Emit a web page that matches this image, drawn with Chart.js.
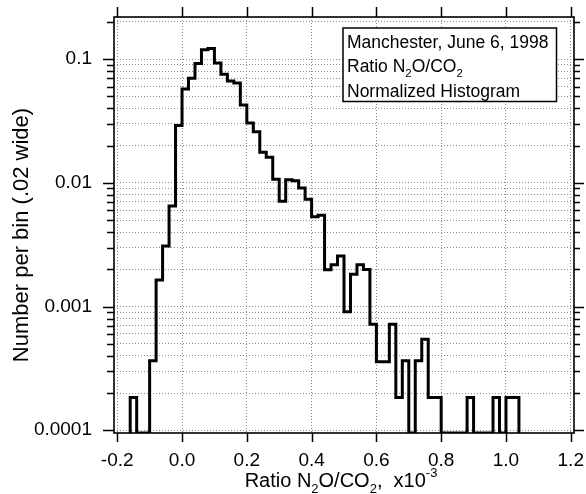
<!DOCTYPE html>
<html><head><meta charset="utf-8">
<script src="https://cdn.jsdelivr.net/npm/chart.js@4/dist/chart.umd.min.js"></script>
<style>html,body{margin:0;padding:0;background:#fff;}#wrap{width:586px;height:494px;position:relative}</style>
</head><body><div id="wrap"><canvas id="c" width="586" height="494"></canvas></div>
<script>
// ---- data ----
const binLeftEdges = [-0.16,-0.14,-0.12,-0.10,-0.08,-0.06,-0.04,-0.02,0.00,0.02,
  0.04,0.06,0.08,0.10,0.12,0.14,0.16,0.18,0.20,0.22,
  0.24,0.26,0.28,0.30,0.32,0.34,0.36,0.38,0.40,0.42,
  0.44,0.46,0.48,0.50,0.52,0.54,0.56,0.58,0.60,0.62,
  0.64,0.66,0.68,0.70,0.72,0.74,0.76,0.78,0.80,0.82,
  0.84,0.86,0.88,0.90,0.92,0.94,0.96,0.98,1.00,1.02];
const binWidth = 0.02;
const binValues = [0.000184,0,0,0.000364,0.00164,0.00309,0.0065,0.0291,0.0574,0.0700,
  0.0920,0.119,0.122,0.093,0.0754,0.0665,0.0640,0.0426,0.0304,0.0259,
  0.0177,0.0161,0.0107,0.0071,0.0106,0.0104,0.0091,0.00738,0.00533,0.00547,
  0.00198,0.00218,0.00256,0.000908,0.00182,0.00218,0.00199,0.000718,0.000357,0.000357,
  0.000720,0.000184,0.000364,0,0.000364,0.000543,0.000184,0.000184,0,0,
  0,0,0.000184,0,0,0,0.000184,0,0.000184,0.000184];
const xTickValues = [-0.2,0.0,0.2,0.4,0.6,0.8,1.0,1.2];
const yDecades = [0.0001,0.001,0.01,0.1];
const yTickLabels = ['0.0001','0.001','0.01','0.1'];
const xRange = [-0.21, 1.21];
const yRange = [0.000095, 0.219];
const legendLines = [
  [['Manchester, June 6, 1998','n']],
  [['Ratio N','n'],['2','sub'],['O/CO','n'],['2','sub']],
  [['Normalized Histogram','n']]
];
const xTitle = [['Ratio N','n'],['2','sub'],['O/CO','n'],['2','sub'],[',  x10','n'],['-3','sup']];
const yTitle = 'Number per bin (.02 wide)';

// ---- build step points ----
const floorVal = yRange[0];
const pts = [{x: binLeftEdges[0], y: floorVal}];
binLeftEdges.forEach((e, i) => pts.push({x: e, y: binValues[i] > 0 ? binValues[i] : floorVal}));
pts.push({x: binLeftEdges[binLeftEdges.length-1] + binWidth, y: floorVal});

const FONT = '"Liberation Sans", Arial, Helvetica, sans-serif';

function richWidth(ctx, pieces, size){
  let w = 0;
  pieces.forEach(([t,m]) => { const s = m==='n'?size:size*0.65; ctx.font = s+'px '+FONT; w += ctx.measureText(t).width; });
  return w;
}
function drawRich(ctx, pieces, x, y, size){
  ctx.textAlign='left'; ctx.textBaseline='alphabetic';
  pieces.forEach(([t,m]) => {
    const s = m==='n'?size:size*0.65;
    ctx.font = s+'px '+FONT;
    const dy = m==='sub'? size*0.3 : (m==='sup' ? -size*0.5 : 0);
    ctx.fillText(t, x, y+dy);
    x += ctx.measureText(t).width;
  });
}

const decor = {
  id:'decor',
  afterDraw(chart){
    const {ctx, chartArea:a, scales:{x, y}} = chart;
    ctx.save();
    ctx.strokeStyle='#000'; ctx.fillStyle='#000';
    ctx.lineWidth=1.6;
    ctx.strokeRect(a.left, a.top, a.right-a.left, a.bottom-a.top);
    ctx.lineWidth=1.5;
    ctx.beginPath();
    xTickValues.forEach(v => {
      const px = Math.round(x.getPixelForValue(v))+0.5;
      ctx.moveTo(px, a.bottom); ctx.lineTo(px, a.bottom+9);
      ctx.moveTo(px, a.top); ctx.lineTo(px, a.top-10);
    });
    y.ticks.forEach(t => {
      const py = Math.round(y.getPixelForValue(t.value))+0.5;
      const L = t.major ? 11 : 7;
      ctx.moveTo(a.left, py); ctx.lineTo(a.left-L, py);
      ctx.moveTo(a.right, py); ctx.lineTo(a.right+L-1, py);
    });
    ctx.stroke();
    // legend box
    const bx = a.right - 231, by = a.top + 11, bw = 213.5, bh = 73.5;
    ctx.fillStyle='#fff'; ctx.fillRect(bx, by, bw, bh);
    ctx.fillStyle='#000'; ctx.lineWidth=1.5; ctx.strokeRect(bx, by, bw, bh);
    legendLines.forEach((ln, i) => drawRich(ctx, ln, bx+4, by+19.5+i*24.5, 17.5));
    // x title
    const xs = 20;
    const w = richWidth(ctx, xTitle, xs);
    drawRich(ctx, xTitle, (a.left+a.right)/2 - w/2 - 3, a.bottom+54, xs);
    // y title
    ctx.save();
    ctx.translate(27.5, (a.top+a.bottom)/2 + 10);
    ctx.rotate(-Math.PI/2);
    ctx.font = '22px '+FONT; ctx.textAlign='center'; ctx.textBaseline='alphabetic';
    ctx.fillText(yTitle, 0, 0);
    ctx.restore();
    ctx.restore();
  }
};

new Chart(document.getElementById('c'), {
  type:'line',
  data:{datasets:[{data: pts, stepped:true, borderColor:'#000', borderWidth:3,
    pointRadius:0, fill:false, tension:0, borderJoinStyle:'miter', borderCapStyle:'butt'}]},
  options:{
    responsive:false, animation:false, devicePixelRatio:1,
    layout:{padding:{top:17, right:12, left:0, bottom:0}},
    plugins:{legend:{display:false}, tooltip:{enabled:false}},
    scales:{
      x:{type:'linear', min:xRange[0], max:xRange[1],
        afterBuildTicks: s => { s.ticks = xTickValues.map(v => ({value:v})); },
        afterFit: s => { s.height = 61; s.paddingLeft = 0; s.paddingRight = 0; },
        ticks:{callback: v => Number(v).toFixed(1), color:'#000', font:{family:FONT, size:19}, padding:16, maxRotation:0, autoSkip:false},
        grid:{color:'#8a8a8a', lineWidth:1, drawTicks:false},
        border:{display:false, dash:[1,2]}
      },
      y:{type:'logarithmic', min:yRange[0], max:yRange[1],
        afterBuildTicks: s => {
          const t = [];
          yDecades.forEach(d => { for (let k=1;k<=9;k++){ const v = k*d; if (v>=yRange[0] && v<=yRange[1]) t.push({value:v, major:k===1}); } });
          s.ticks = t;
        },
        afterFit: s => { s.width = 114; s.paddingTop = 0; s.paddingBottom = 0; },
        ticks:{callback: v => { const i = yDecades.findIndex(d => Math.abs(v/d-1) < 1e-6); return i>=0 ? yTickLabels[i] : ''; },
          color:'#000', font:{family:FONT, size:19}, padding:22, autoSkip:false},
        grid:{color:'#8a8a8a', lineWidth:1, drawTicks:false},
        border:{display:false, dash:[1,2]}
      }
    }
  },
  plugins:[decor]
});
</script>
</body></html>
